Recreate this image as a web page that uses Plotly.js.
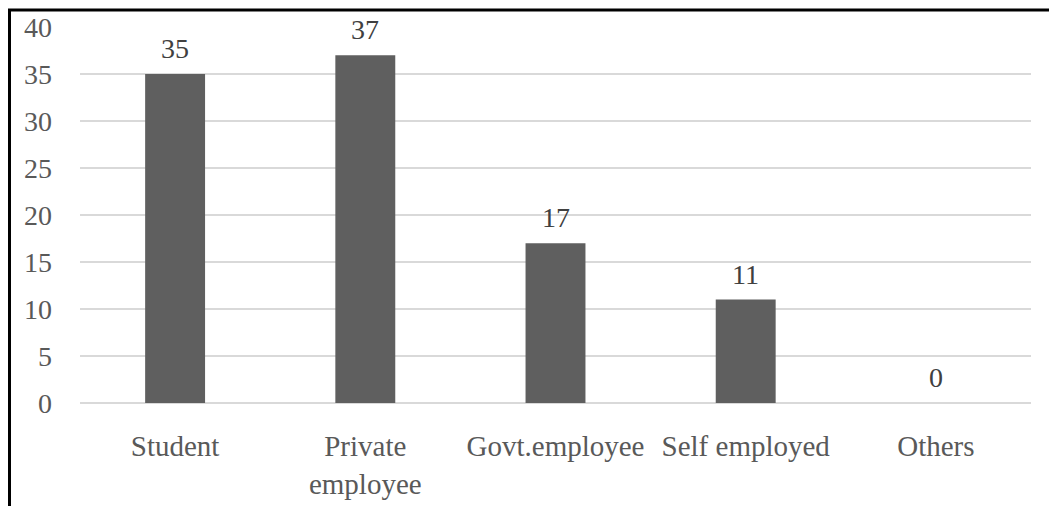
<!DOCTYPE html>
<html>
<head>
<meta charset="utf-8">
<script src="https://cdn.plot.ly/plotly-3.0.1.min.js"></script>
<style>
html,body{margin:0;padding:0;background:#fff;}
#chart{width:1049px;height:506px;}
</style>
</head>
<body>
<div id="chart"></div>
<script>
var categories = ["Student", "Private<br>employee", "Govt.employee", "Self employed", "Others"];
var values = [35, 37, 17, 11, 0];
var yTicks = [0, 5, 10, 15, 20, 25, 30, 35, 40];

var fontFamily = "Liberation Serif, Times New Roman, serif";

var annotations = categories.map(function (c, i) {
  return {
    x: c, y: values[i], xref: 'x', yref: 'y',
    text: String(values[i]), showarrow: false,
    yanchor: 'bottom', yshift: 8,
    font: {family: fontFamily, size: 28, color: '#404040'}
  };
});

var L = 80, R = 1031, T = 27, B = 403;
function px(x) { return (x - L) / (R - L); }
function py(y) { return (B - y) / (B - T); }

var shapes = [
  {type: 'line', xref: 'paper', yref: 'paper', x0: px(9.5), x1: px(9.5), y0: py(10), y1: py(520),
   line: {color: '#000', width: 3}},
  {type: 'line', xref: 'paper', yref: 'paper', x0: px(8), x1: px(1060), y0: py(10), y1: py(10),
   line: {color: '#000', width: 3}}
];

var trace = {
  type: 'bar',
  x: categories,
  y: values,
  marker: {color: '#5f5f5f'},
  hoverinfo: 'none'
};

var layout = {
  width: 1049, height: 506,
  margin: {l: 80, r: 18, t: 27, b: 103},
  paper_bgcolor: '#ffffff', plot_bgcolor: '#ffffff',
  showlegend: false,
  bargap: 0.685,
  font: {family: fontFamily, size: 28, color: '#595959'},
  xaxis: {
    type: 'category',
    showgrid: false, zeroline: false, showline: false,
    ticks: '', ticklabelstandoff: 23,
    tickfont: {family: fontFamily, size: 29, color: '#595959'}
  },
  yaxis: {
    range: [0, 40], tickvals: yTicks, ticktext: yTicks.map(String),
    showgrid: true, gridcolor: '#d9d9d9', gridwidth: 1.5,
    zeroline: true, zerolinecolor: '#d9d9d9', zerolinewidth: 1.5,
    showline: false, ticks: '', ticklabelstandoff: 27,
    tickfont: {family: fontFamily, size: 28, color: '#595959'}
  },
  annotations: annotations,
  shapes: shapes
};

Plotly.newPlot('chart', [trace], layout, {displayModeBar: false, staticPlot: true});
</script>
</body>
</html>
